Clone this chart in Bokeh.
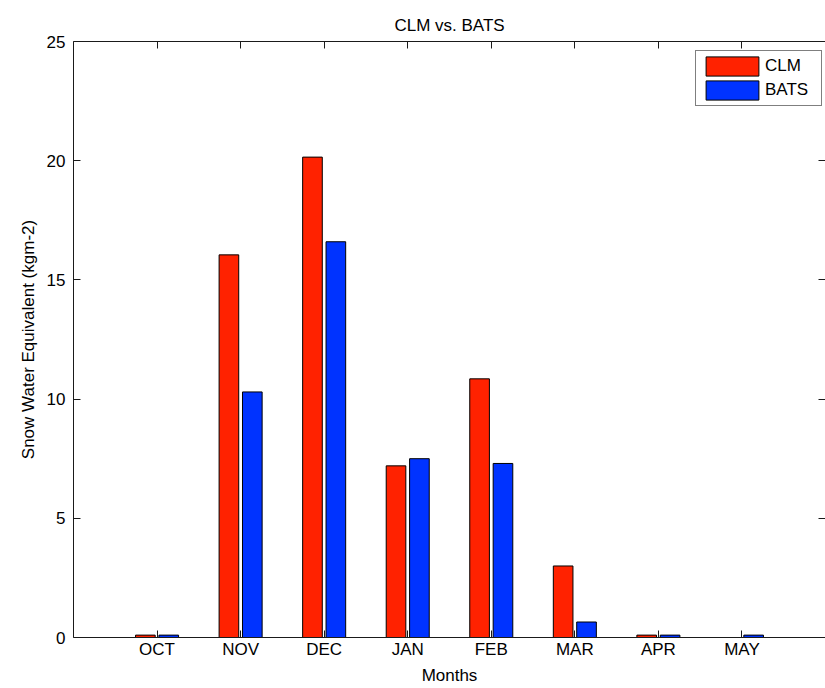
from bokeh.plotting import figure
from bokeh.models import FixedTicker, LinearAxis, Legend, LegendItem, ColumnDataSource
from bokeh.transform import dodge
from bokeh.embed import file_html
from bokeh.resources import INLINE

months = ["OCT", "NOV", "DEC", "JAN", "FEB", "MAR", "APR", "MAY"]
month_pos = [1, 2, 3, 4, 5, 6, 7, 8]
clm = [0.1, 16.05, 20.15, 7.2, 10.85, 3.0, 0.1, 0.0]
bats = [0.1, 10.3, 16.6, 7.5, 7.3, 0.65, 0.1, 0.1]
y_ticks = [0, 5, 10, 15, 20, 25]

FONT = "Liberation Sans"
FS = "17px"
RED = "#ff2200"
BLUE = "#0033ff"

src = ColumnDataSource(dict(x=month_pos, clm=clm, bats=bats))

p = figure(width=825, height=688, x_range=(0, 9), y_range=(0, 25),
           output_backend="svg", toolbar_location=None,
           min_border_left=73, min_border_right=0, min_border_top=41,
           min_border_bottom=51)

r1 = p.vbar(x=dodge("x", -0.14, range=p.x_range), top="clm", width=0.235, source=src,
            fill_color=RED, line_color="black", line_width=1)
r2 = p.vbar(x=dodge("x", 0.14, range=p.x_range), top="bats", width=0.235, source=src,
            fill_color=BLUE, line_color="black", line_width=1)

p.xgrid.visible = False
p.ygrid.visible = False
p.outline_line_color = None
p.background_fill_color = "white"
p.border_fill_color = "white"

xt = FixedTicker(ticks=month_pos)
yt = FixedTicker(ticks=y_ticks)

def style(ax):
    ax.major_tick_in = 7
    ax.major_tick_out = 0
    ax.minor_tick_line_color = None
    ax.axis_line_color = "#1a1a1a"
    ax.major_tick_line_color = "#1a1a1a"
    ax.major_label_text_font = FONT
    ax.major_label_text_font_size = FS
    ax.major_label_text_color = "black"
    ax.axis_label_text_font = FONT
    ax.axis_label_text_font_size = FS
    ax.axis_label_text_font_style = "normal"
    ax.axis_label_text_color = "black"

xa = p.xaxis[0]
xa.ticker = xt
xa.major_label_overrides = {pos: m for pos, m in zip(month_pos, months)}
xa.axis_label = "Months"
style(xa)
xa.major_label_standoff = 2
xa.axis_label_standoff = 4

ya = p.yaxis[0]
ya.ticker = yt
ya.axis_label = "Snow Water Equivalent (kgm-2)"
style(ya)
ya.major_label_standoff = 8
ya.axis_label_standoff = 6

top_ax = LinearAxis(ticker=xt)
style(top_ax)
top_ax.major_label_overrides = {pos: "" for pos in month_pos}
top_ax.major_label_standoff = 0
p.add_layout(top_ax, "above")

right_ax = LinearAxis(ticker=yt)
style(right_ax)
right_ax.major_label_overrides = {t: "" for t in y_ticks}
right_ax.major_label_standoff = 0
right_ax.axis_line_color = None
p.add_layout(right_ax, "right")

p.title.text = "CLM vs. BATS"
p.title.align = "center"
p.title.vertical_align = "top"
p.title.text_font = FONT
p.title.text_font_size = FS
p.title.text_font_style = "normal"
p.title.text_color = "black"

legend = Legend(items=[LegendItem(label="CLM", renderers=[r1]),
                       LegendItem(label="BATS", renderers=[r2])],
                location=(622, 531))
legend.glyph_width = 66
legend.glyph_height = 24
legend.label_height = 24
legend.label_width = 53
legend.label_standoff = 0
legend.spacing = 0
legend.padding = 3
legend.margin = 0
legend.border_line_color = "black"
legend.border_line_width = 1
legend.label_text_font = FONT
legend.label_text_font_size = FS
legend.label_text_color = "black"
legend.background_fill_color = "white"
legend.background_fill_alpha = 1
p.add_layout(legend)

open("out.html", "w").write(file_html(p, INLINE))
